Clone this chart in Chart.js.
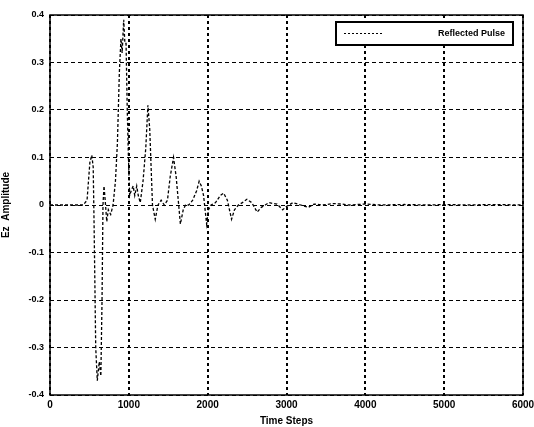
<!DOCTYPE html>
<html>
<head>
<meta charset="utf-8">
<script src="https://cdn.jsdelivr.net/npm/chart.js@4/dist/chart.umd.min.js"></script>
<style>
  html, body { margin: 0; padding: 0; background: #fff; }
  #wrap { width: 534px; height: 427px; }
</style>
</head>
<body>
<div id="wrap"><canvas id="pulse"></canvas></div>
<script>
// time steps and Ez amplitude
const timeSteps = [0, 420, 470, 506, 530, 548, 560, 580, 600, 625, 645, 660, 672, 685, 700, 720, 740, 770,
  800, 830, 855, 880, 900, 915, 935, 950, 965, 980, 995, 1010, 1030, 1055, 1075, 1100, 1120, 1145,
  1180, 1215, 1242, 1265, 1300, 1335, 1370, 1410, 1450, 1490, 1525, 1567, 1600, 1654, 1690, 1719,
  1760, 1810, 1860, 1892, 1920, 1948, 1987, 2010, 2043, 2100, 2160, 2203, 2250, 2303, 2340, 2390,
  2440, 2498, 2560, 2628, 2680, 2730, 2779, 2830, 2880, 2952, 3000, 3082, 3180, 3277, 3350, 3450,
  3600, 3700, 3800, 4000, 4200, 4500, 4800, 5000, 5300, 5600, 6000];
const ezAmp = [0, 0, 0.01, 0.09, 0.105, 0.08, -0.05, -0.3, -0.37, -0.33, -0.36, -0.2, 0.0, 0.04, 0.01,
  -0.035, -0.01, -0.02, 0.0, 0.05, 0.13, 0.28, 0.35, 0.32, 0.39, 0.34, 0.34, 0.2, 0.1, 0.02,
  0.03, 0.04, 0.02, 0.04, 0.02, 0.005, 0.05, 0.12, 0.21, 0.16, 0.0, -0.03, 0.0, 0.01, 0.0, 0.01,
  0.06, 0.1, 0.06, -0.04, -0.01, 0.0, 0.0, 0.01, 0.03, 0.05, 0.04, 0.02, -0.04, -0.01, 0.0,
  0.005, 0.02, 0.025, 0.01, -0.03, -0.01, 0.0, 0.005, 0.012, 0.005, -0.015, -0.005, 0.0,
  0.005, 0.003, 0.002, -0.01, -0.003, 0.005, 0.0, -0.005, 0.002, 0.0, 0.003, 0.002, 0.0,
  0.002, 0.0, 0.001, 0.0, 0.001, 0.0, 0.001, 0.0];
const xTicks = [0, 1000, 2000, 3000, 4000, 5000, 6000];
const yTicks = [-0.4, -0.3, -0.2, -0.1, 0, 0.1, 0.2, 0.3, 0.4];

const FONT = "'Liberation Sans', Arial, sans-serif";

// MATLAB-style boxed legend in the upper right corner
const boxLegend = {
  id: "boxLegend",
  afterDraw(chart) {
    const c = chart.ctx;
    const a = chart.chartArea;
    const x1 = a.right - 187, y1 = a.top + 7, w = 177, h = 23;
    c.save();
    c.fillStyle = "#fff";
    c.fillRect(x1, y1, w, h);
    c.strokeStyle = "#000";
    c.lineWidth = 2;
    c.strokeRect(x1, y1, w, h);
    c.lineWidth = 1;
    c.setLineDash([2, 2]);
    c.beginPath();
    c.moveTo(x1 + 8, y1 + h / 2);
    c.lineTo(x1 + 46, y1 + h / 2);
    c.stroke();
    c.setLineDash([]);
    c.fillStyle = "#000";
    c.font = "bold 9px " + FONT;
    c.textBaseline = "middle";
    c.textAlign = "right";
    c.fillText(chart.data.datasets[0].label, x1 + w - 8, y1 + h / 2);
    c.restore();
  }
};

// solid frame round the plot area
const frame = {
  id: "frame",
  afterDatasetsDraw(chart) {
    const c = chart.ctx;
    const a = chart.chartArea;
    c.save();
    c.strokeStyle = "#000";
    c.lineWidth = 1.5;
    c.strokeRect(a.left, a.top, a.right - a.left, a.bottom - a.top);
    c.restore();
  }
};

new Chart(document.getElementById("pulse"), {
  type: "line",
  data: {
    datasets: [{
      label: "Reflected Pulse",
      data: timeSteps.map((t, i) => ({ x: t, y: ezAmp[i] })),
      borderColor: "#000",
      borderWidth: 1.3,
      borderDash: [3, 2],
      pointRadius: 0,
      tension: 0,
      fill: false
    }]
  },
  options: {
    responsive: true,
    maintainAspectRatio: false,
    animation: false,
    layout: { padding: { left: 0, right: 11, top: 15, bottom: 0 } },
    plugins: { legend: { display: false }, tooltip: { enabled: false } },
    scales: {
      x: {
        type: "linear",
        min: 0, max: 6000,
        afterBuildTicks: s => { s.ticks = xTicks.map(v => ({ value: v })); },
        afterFit: s => { s.height = 32; s.paddingRight = 0; },
        grid: { color: "#000", lineWidth: 2, drawTicks: false },
        border: { display: false, dash: [3, 3] },
        ticks: {
          color: "#000", font: { family: FONT, size: 10, weight: "bold" }, padding: 4, maxRotation: 0,
          callback: v => String(v)
        },
        title: { display: true, text: "Time Steps", color: "#000", font: { family: FONT, size: 10, weight: "bold" }, padding: 0 }
      },
      y: {
        min: -0.4, max: 0.4,
        afterBuildTicks: s => { s.ticks = yTicks.map(v => ({ value: v })); },
        afterFit: s => { s.width = 50; },
        grid: { color: "#000", lineWidth: 1, drawTicks: false },
        border: { display: false, dash: [4, 3] },
        ticks: {
          color: "#000", font: { family: FONT, size: 9, weight: "bold" }, padding: 6,
          callback: v => v === 0 ? "0" : v.toFixed(1)
        },
        title: { display: true, text: "Ez  Amplitude", color: "#000", font: { family: FONT, size: 10, weight: "bold" }, padding: 0 }
      }
    }
  },
  plugins: [frame, boxLegend]
});
</script>
</body>
</html>
